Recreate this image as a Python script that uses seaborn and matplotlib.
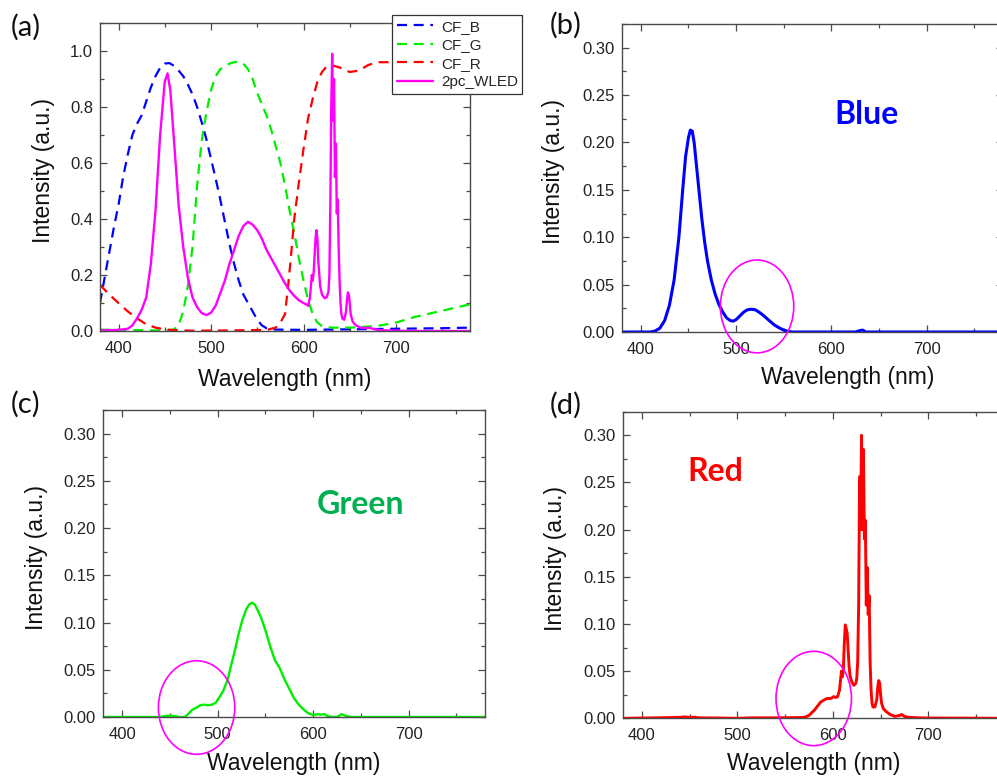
"""Four-panel emission spectra: WLED with colour filters and filtered B/G/R."""

import matplotlib.pyplot as plt
import numpy as np
import pandas as pd
import seaborn as sns
from matplotlib.patches import Ellipse
from matplotlib.ticker import MultipleLocator

# (a) white LED spectrum and colour filter transmittances
wl_wled = [380, 400, 410, 415, 420, 425, 430, 435, 440, 445,
           450, 453, 456, 460, 465, 470, 475, 480, 485, 490,
           495, 500, 505, 510, 515, 520, 525, 530, 535, 540,
           545, 550, 555, 560, 565, 570, 575, 580, 585, 590,
           595, 600, 603, 605, 607, 608, 609, 610, 611, 612,
           613, 614, 615, 616, 618, 620, 623, 625, 627, 628,
           629, 630, 631, 632, 633, 634, 635, 636, 637, 638,
           639, 640, 641, 642, 644, 646, 647, 648, 649, 650,
           651, 653, 655, 658, 662, 666, 670, 675, 680, 690,
           700, 720, 780]
i_wled = [0.002, 0.004, 0.008, 0.02, 0.045, 0.075, 0.12, 0.24, 0.43, 0.7,
          0.89, 0.92, 0.86, 0.68, 0.45, 0.3, 0.19, 0.12, 0.085, 0.064,
          0.057, 0.065, 0.09, 0.135, 0.18, 0.24, 0.29, 0.34, 0.375, 0.39,
          0.38, 0.36, 0.33, 0.29, 0.26, 0.23, 0.2, 0.17, 0.145, 0.125,
          0.11, 0.1, 0.095, 0.09, 0.12, 0.16, 0.2, 0.18, 0.21, 0.27,
          0.33, 0.36, 0.33, 0.25, 0.16, 0.13, 0.117, 0.12, 0.14, 0.2,
          0.45, 0.8, 0.99, 0.75, 0.9, 0.55, 0.67, 0.42, 0.47, 0.3,
          0.18, 0.1, 0.06, 0.045, 0.04, 0.07, 0.11, 0.138, 0.13, 0.1,
          0.06, 0.035, 0.025, 0.018, 0.012, 0.01, 0.012, 0.008, 0.004, 0.002,
          0.001, 0, 0]

wl_cfb = [380, 385, 390, 395, 400, 405, 410, 415, 420, 425,
          430, 435, 440, 445, 450, 455, 460, 465, 470, 475,
          480, 485, 490, 495, 500, 505, 510, 515, 520, 525,
          530, 535, 540, 545, 550, 555, 560, 570, 600, 650,
          700, 750, 780]
cf_b = [0.10, 0.19, 0.28, 0.37, 0.45, 0.55, 0.63, 0.70, 0.74, 0.77,
        0.82, 0.87, 0.91, 0.94, 0.955, 0.957, 0.947, 0.93, 0.91, 0.88,
        0.845, 0.80, 0.745, 0.685, 0.615, 0.545, 0.47, 0.39, 0.31, 0.24,
        0.18, 0.13, 0.1, 0.07, 0.04, 0.02, 0.01, 0.005, 0.004, 0.006,
        0.008, 0.01, 0.012]

wl_cfg = [380, 420, 440, 455, 460, 465, 470, 475, 480, 485,
          490, 495, 500, 505, 510, 515, 520, 525, 530, 535,
          540, 545, 550, 555, 560, 565, 570, 575, 580, 585,
          590, 595, 600, 605, 610, 615, 620, 630, 650, 680,
          700, 720, 740, 760, 780]
cf_g = [0.005, 0.003, 0.002, 0.003, 0.006, 0.02, 0.07, 0.16, 0.3, 0.52,
        0.68, 0.78, 0.86, 0.91, 0.935, 0.945, 0.955, 0.96, 0.962, 0.955,
        0.935, 0.9, 0.85, 0.81, 0.77, 0.72, 0.66, 0.6, 0.52, 0.43,
        0.35, 0.26, 0.18, 0.11, 0.06, 0.03, 0.018, 0.012, 0.012, 0.018,
        0.03, 0.05, 0.065, 0.08, 0.095]

wl_cfr = [380, 390, 400, 410, 420, 430, 440, 450, 460, 480,
          520, 560, 570, 575, 580, 583, 586, 590, 595, 600,
          605, 610, 615, 620, 625, 630, 640, 650, 660, 670,
          680, 700, 740, 780]
cf_r = [0.165, 0.13, 0.1, 0.07, 0.045, 0.024, 0.012, 0.006, 0.003, 0.001,
        0.002, 0.004, 0.012, 0.03, 0.06, 0.15, 0.25, 0.40, 0.53, 0.65,
        0.76, 0.83, 0.89, 0.925, 0.945, 0.95, 0.94, 0.925, 0.93, 0.95,
        0.96, 0.96, 0.96, 0.96]

# (b) blue sub-pixel
wl_blue = [380, 410, 415, 420, 425, 430, 435, 440, 444, 447,
           450, 452, 454, 456, 458, 461, 464, 467, 470, 474,
           478, 482, 486, 490, 494, 497, 500, 504, 508, 512,
           516, 520, 524, 528, 532, 536, 540, 545, 550, 555,
           560, 625, 630, 633, 636, 700, 780]
i_blue = [0, 0, 0.001, 0.004, 0.012, 0.028, 0.055, 0.1, 0.15, 0.185,
          0.205, 0.213, 0.212, 0.2, 0.18, 0.15, 0.12, 0.095, 0.075, 0.055,
          0.04, 0.029, 0.021, 0.015, 0.012, 0.0115, 0.013, 0.017, 0.021, 0.0235,
          0.024, 0.0235, 0.021, 0.018, 0.0145, 0.011, 0.0075, 0.0045, 0.002, 0.0005,
          0, 0, 0.0015, 0.002, 0, 0, 0]

# (c) green sub-pixel
wl_green = [380, 440, 445, 450, 455, 460, 466, 470, 474, 478,
            482, 486, 490, 494, 498, 502, 506, 510, 514, 518,
            522, 526, 530, 533, 536, 539, 542, 546, 550, 555,
            560, 565, 570, 575, 580, 585, 590, 595, 600, 605,
            608, 612, 615, 620, 625, 630, 632, 635, 640, 700,
            780]
i_green = [0, 0, 0.001, 0.0015, 0.001, 0, 0, 0.004, 0.008, 0.01,
           0.0125, 0.013, 0.0125, 0.013, 0.015, 0.021, 0.028, 0.038, 0.054, 0.07,
           0.088, 0.103, 0.114, 0.119, 0.121, 0.119, 0.113, 0.104, 0.092, 0.075,
           0.06, 0.052, 0.04, 0.03, 0.02, 0.013, 0.008, 0.004, 0.002, 0.003,
           0.0025, 0.003, 0.001, 0, 0, 0.003, 0.002, 0.001, 0, 0,
           0]

# (d) red sub-pixel
wl_red = [380, 415, 440, 445, 450, 455, 460, 480, 500, 515,
          540, 565, 570, 575, 578, 581, 584, 587, 590, 594,
          598, 601, 603, 605, 607, 608, 609, 610, 611, 612,
          613, 614, 615, 616, 617, 618, 620, 622, 624, 625,
          626, 627, 628, 629, 630, 631, 632, 633, 634, 635,
          636, 637, 638, 639, 640, 641, 642, 644, 646, 647,
          648, 649, 650, 651, 653, 656, 660, 665, 670, 672,
          675, 680, 690, 700, 740, 780]
i_red = [0, 0.0005, 0.001, 0.0015, 0.001, 0.0012, 0.0005, 0.0003, 0, 0.0005,
         0.0005, 0.0008, 0.001, 0.003, 0.006, 0.009, 0.013, 0.017, 0.019, 0.021,
         0.021, 0.023, 0.022, 0.023, 0.03, 0.04, 0.05, 0.044, 0.052, 0.08,
         0.099, 0.095, 0.09, 0.072, 0.055, 0.045, 0.038, 0.035, 0.037, 0.042,
         0.06, 0.12, 0.256, 0.2, 0.3, 0.2, 0.285, 0.19, 0.21, 0.12,
         0.16, 0.11, 0.13, 0.06, 0.03, 0.016, 0.012, 0.012, 0.02, 0.033,
         0.04, 0.037, 0.025, 0.016, 0.01, 0.007, 0.004, 0.002, 0.003, 0.004,
         0.002, 0.001, 0.0005, 0.0003, 0.0002, 0]

# highlighted regions: (centre nm, centre intensity, width nm, height)
circle_blue = (522, 0.027, 77, 0.098)
circle_green = (478, 0.010, 80, 0.099)
circle_red = (580, 0.021, 79, 0.100)

sns.set_style("ticks")
plt.rcParams["font.family"] = ["Liberation Sans", "DejaVu Sans"]

AX_COLOR = "#4a4a4a"
MAGENTA = "#ff00ff"


def style_axes(ax, ymax, ymajor, yminor, fmt):
    ax.set_xlim(380, 780)
    ax.set_ylim(0, ymax)
    ax.xaxis.set_major_locator(MultipleLocator(100))
    ax.xaxis.set_minor_locator(MultipleLocator(50))
    ax.yaxis.set_major_locator(MultipleLocator(ymajor))
    ax.yaxis.set_minor_locator(MultipleLocator(yminor))
    ax.yaxis.set_major_formatter(fmt)
    for side in ["left", "bottom", "right", "top"]:
        ax.spines[side].set_visible(True)
        ax.spines[side].set_color(AX_COLOR)
        ax.spines[side].set_linewidth(1.0)
    ax.tick_params(which="both", direction="in", color=AX_COLOR,
                   labelsize=12, labelcolor="#222222", width=0.9)
    ax.tick_params(which="major", length=5)
    ax.tick_params(which="minor", length=3)
    ax.tick_params(axis="x", which="major", pad=7)
    ax.tick_params(axis="y", which="major", pad=5)
    ax.set_xlabel("Wavelength (nm)", fontsize=16.5, color="#111111")
    ax.set_ylabel("Intensity (a.u.)", fontsize=16.5, color="#111111")
    ax.xaxis.label.set_va("center")
    ax.yaxis.label.set_va("center")
    # mirrored ticks on top/right, also pointing inward
    top = ax.secondary_xaxis("top")
    top.set_xticks(np.arange(400, 800, 100))
    top.xaxis.set_minor_locator(MultipleLocator(50))
    top.tick_params(which="both", direction="in", labeltop=False,
                    color=AX_COLOR, width=0.9)
    top.tick_params(which="major", length=5)
    top.tick_params(which="minor", length=3)
    top.spines["top"].set_visible(False)
    right = ax.secondary_yaxis("right")
    right.yaxis.set_major_locator(MultipleLocator(ymajor))
    right.yaxis.set_minor_locator(MultipleLocator(yminor))
    right.tick_params(which="both", direction="in", labelright=False,
                      color=AX_COLOR, width=0.9)
    right.tick_params(which="major", length=5)
    right.tick_params(which="minor", length=3)
    right.spines["right"].set_visible(False)


def draw_spectrum(ax, wl, inten, color, lw):
    df = pd.DataFrame({"wl": wl, "i": inten})
    sns.lineplot(data=df, x="wl", y="i", ax=ax, color=color, lw=lw,
                 estimator=None, sort=False)


def draw_circle(ax, spec):
    cx, cy, w, h = spec
    ax.add_patch(Ellipse((cx, cy), w, h, fill=False, edgecolor=MAGENTA,
                         lw=1.2, clip_on=False, zorder=5))


W, H = 997, 778
fig = plt.figure(figsize=(W / 100, H / 100), dpi=100)


def make_axes(left, top, right, bottom):
    return fig.add_axes([left / W, 1 - bottom / H, (right - left) / W,
                         (bottom - top) / H])


ax_a = make_axes(100, 23, 470, 331)
ax_b = make_axes(621.7, 24, 1003, 332)
ax_c = make_axes(103, 410, 485, 717)
ax_d = make_axes(622.7, 411.7, 1004.8, 718.3)

# (a)
dash = (4.5, 3)
filters = pd.DataFrame({
    "wl": wl_cfb + wl_cfg + wl_cfr,
    "t": cf_b + cf_g + cf_r,
    "filter": ["CF_B"] * len(wl_cfb) + ["CF_G"] * len(wl_cfg)
    + ["CF_R"] * len(wl_cfr),
})
sns.lineplot(data=filters, x="wl", y="t", hue="filter", ax=ax_a,
             palette={"CF_B": "#0000ff", "CF_G": "#00ee00", "CF_R": "#ff0000"},
             lw=1.6, estimator=None, sort=False, legend=False)
for line in ax_a.get_lines():
    line.set_dashes(dash)
draw_spectrum(ax_a, wl_wled, i_wled, MAGENTA, 1.7)
style_axes(ax_a, 1.1, 0.2, 0.1, "{x:.1f}")
handles = ax_a.get_lines()[:4]
for h, lab in zip(handles, ["CF_B", "CF_G", "CF_R", "2pc_WLED"]):
    h.set_label(lab)
leg = ax_a.legend(handles=handles, loc="upper left",
                  bbox_to_anchor=(392 / W, 1 - 15 / H),
                  bbox_transform=fig.transFigure, fontsize=11,
                  frameon=True, fancybox=False, borderaxespad=0,
                  handlelength=2.4, labelspacing=0.3, borderpad=0.3,
                  handletextpad=0.5)
leg.get_frame().set_edgecolor("#333333")
leg.get_frame().set_linewidth(0.9)
leg.get_frame().set_alpha(1)

# (b)
draw_spectrum(ax_b, wl_blue, i_blue, "#0000ff", 2.2)
style_axes(ax_b, 0.325, 0.05, 0.025, "{x:.2f}")
draw_circle(ax_b, circle_blue)
ax_b.text(866.7 / W, 1 - 115 / H, "Blue", transform=fig.transFigure,
          family="Lato", fontweight="bold", fontsize=23, color="#0000ff",
          ha="center", va="center")

# (c)
draw_spectrum(ax_c, wl_green, i_green, "#00ee00", 1.7)
style_axes(ax_c, 0.325, 0.05, 0.025, "{x:.2f}")
draw_circle(ax_c, circle_green)
ax_c.text(360 / W, 1 - 505 / H, "Green", transform=fig.transFigure,
          family="Lato", fontweight="bold", fontsize=23, color="#00b050",
          ha="center", va="center")

# (d)
draw_spectrum(ax_d, wl_red, i_red, "#ff0000", 2.1)
style_axes(ax_d, 0.325, 0.05, 0.025, "{x:.2f}")
draw_circle(ax_d, circle_red)
ax_d.text(715 / W, 1 - 471 / H, "Red", transform=fig.transFigure,
          family="Lato", fontweight="bold", fontsize=23, color="#ff0000",
          ha="center", va="center")

# label positions (axes fractions)
ax_a.yaxis.set_label_coords(-0.154, 0.52)
ax_a.xaxis.set_label_coords(0.5, -0.157)
ax_b.yaxis.set_label_coords(-0.179, 0.52)
ax_b.xaxis.set_label_coords(0.592, -0.149)
ax_c.yaxis.set_label_coords(-0.174, 0.52)
ax_c.xaxis.set_label_coords(0.5, -0.15)
ax_d.yaxis.set_label_coords(-0.177, 0.52)
ax_d.xaxis.set_label_coords(0.5, -0.149)

# panel letters
for txt, x, y in [("(a)", 11, 27.5), ("(b)", 550, 25),
                  ("(c)", 11, 404), ("(d)", 550, 405)]:
    fig.text(x / W, 1 - y / H, txt, family="Lato", fontsize=21,
             color="#111111", ha="left", va="center")

fig.savefig("out.png", dpi=100)
